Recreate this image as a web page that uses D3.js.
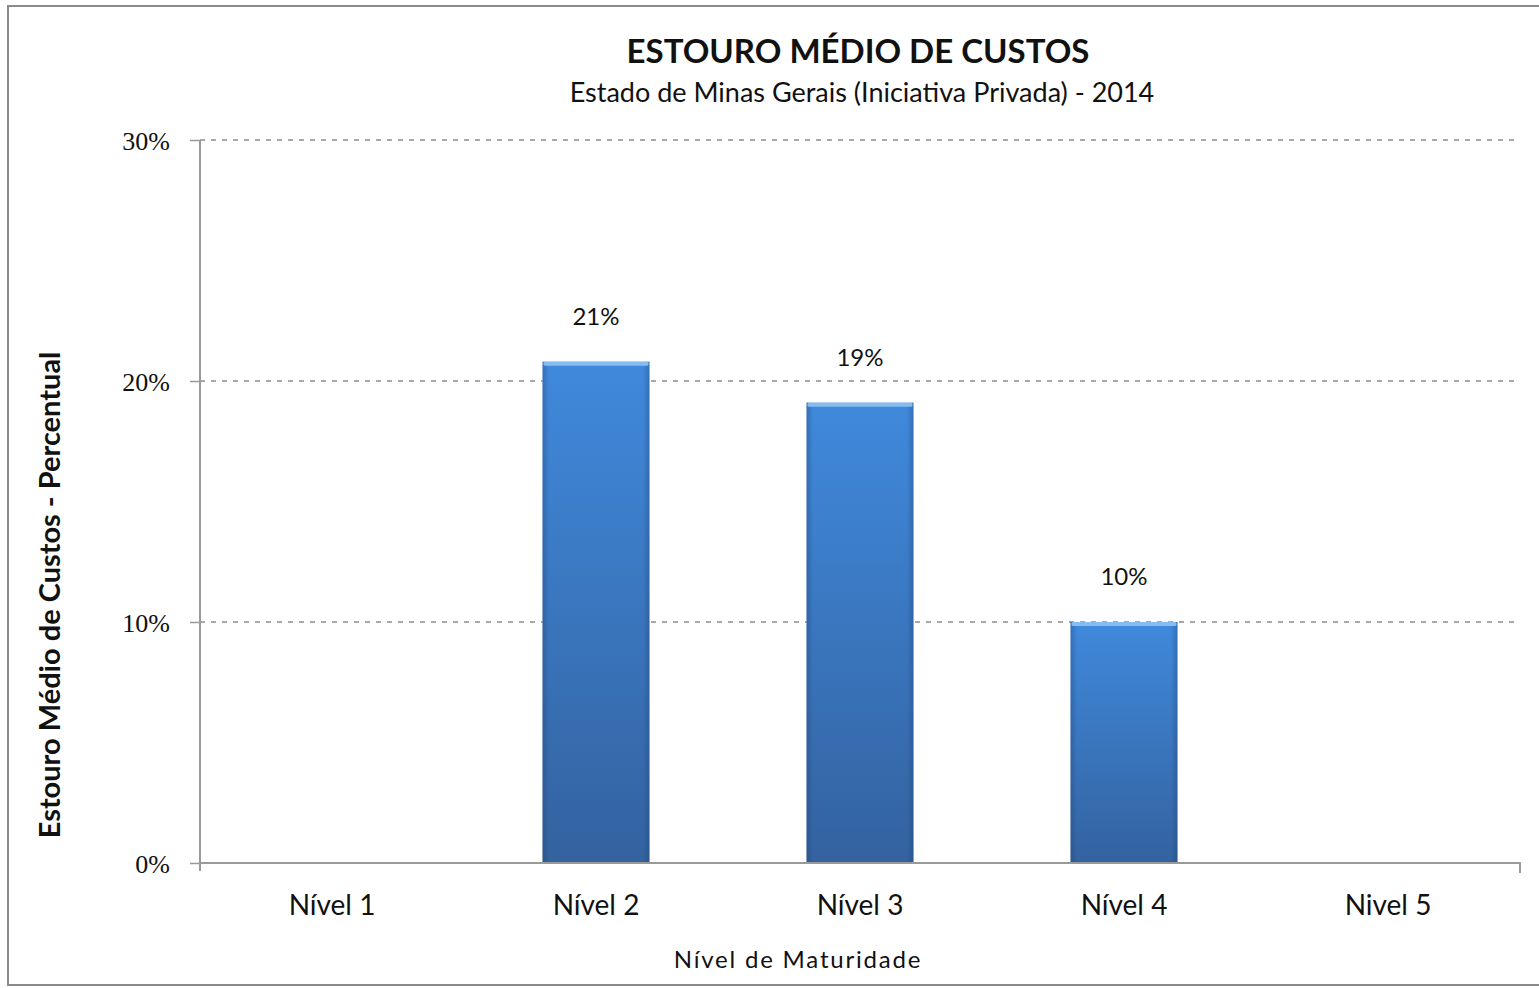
<!DOCTYPE html>
<html>
<head>
<meta charset="utf-8">
<script src="https://cdn.jsdelivr.net/npm/d3@7"></script>
<style>
  html, body { margin: 0; padding: 0; background: #fff; }
  svg { display: block; }
</style>
</head>
<body>
<svg id="chart" width="1539" height="988"></svg>
<script>
// Maturity levels and average cost overrun per level
const categories = ["Nível 1", "Nível 2", "Nível 3", "Nível 4", "Nivel 5"];
const values = [null, 0.208, 0.191, 0.100, null];
const yTicks = [0, 0.1, 0.2, 0.3];

const titleText = "ESTOURO MÉDIO DE CUSTOS";
const subtitleText = "Estado de Minas Gerais (Iniciativa Privada) - 2014";
const yTitleText = "Estouro Médio de Custos -  Percentual";
const xTitleText = "Nível de Maturidade";

const W = 1539, H = 988;
const margin = { left: 200, right: 19, top: 140, bottom: 125 };
const plotW = W - margin.left - margin.right;
const plotH = H - margin.top - margin.bottom;

const svg = d3.select("#chart");
const font = "Lato, 'Open Sans', sans-serif";

// Outer chart frame
svg.append("rect")
  .attr("x", 8).attr("y", 6)
  .attr("width", W).attr("height", 979)
  .attr("fill", "#fff")
  .attr("stroke", "#8a8a8a").attr("stroke-width", 2);

const defs = svg.append("defs");
const grad = defs.append("linearGradient").attr("id", "barGrad")
  .attr("x1", 0).attr("y1", 0).attr("x2", 0).attr("y2", 1);
grad.append("stop").attr("offset", "0%").attr("stop-color", "#4089dc");
grad.append("stop").attr("offset", "100%").attr("stop-color", "#33629f");

const side = defs.append("linearGradient").attr("id", "sideGrad")
  .attr("x1", 0).attr("y1", 0).attr("x2", 1).attr("y2", 0);
side.append("stop").attr("offset", "0%").attr("stop-color", "#1d3f70").attr("stop-opacity", 0.35);
side.append("stop").attr("offset", "6%").attr("stop-color", "#1d3f70").attr("stop-opacity", 0);
side.append("stop").attr("offset", "94%").attr("stop-color", "#1d3f70").attr("stop-opacity", 0);
side.append("stop").attr("offset", "100%").attr("stop-color", "#1d3f70").attr("stop-opacity", 0.35);

const x = d3.scaleBand().domain(categories).range([0, plotW]).paddingInner(0.595).paddingOuter(0.2975);
const y = d3.scaleLinear().domain([0, 0.3]).range([plotH, 0]);

const g = svg.append("g").attr("transform", `translate(${margin.left},${margin.top})`);

// Dashed horizontal gridlines
g.append("g").selectAll("line")
  .data(yTicks.filter(d => d > 0))
  .join("line")
  .attr("x1", 0).attr("x2", plotW)
  .attr("y1", d => y(d)).attr("y2", d => y(d))
  .attr("stroke", "#8c8c8c").attr("stroke-width", 1.6)
  .attr("stroke-dasharray", "5,6");

// Bars
const data = categories.map((c, i) => ({ c, v: values[i] })).filter(d => d.v != null);
const bars = g.append("g").selectAll("g").data(data).join("g");
bars.append("rect")
  .attr("x", d => x(d.c)).attr("width", x.bandwidth())
  .attr("y", d => y(d.v)).attr("height", d => plotH - y(d.v))
  .attr("fill", "url(#barGrad)");
bars.append("rect")
  .attr("x", d => x(d.c)).attr("width", x.bandwidth())
  .attr("y", d => y(d.v)).attr("height", d => plotH - y(d.v))
  .attr("fill", "url(#sideGrad)");
bars.append("rect")
  .attr("x", d => x(d.c) + 1).attr("width", x.bandwidth() - 2)
  .attr("y", d => y(d.v)).attr("height", 4)
  .attr("rx", 1.5)
  .attr("fill", "#86bcef");

// Value labels
const fmt = d3.format(".0%");
bars.append("text")
  .attr("x", d => x(d.c) + x.bandwidth() / 2)
  .attr("y", d => y(d.v) - 37)
  .attr("text-anchor", "middle")
  .attr("font-family", font).attr("font-size", 24)
  .attr("fill", "#111")
  .text(d => fmt(d.v));

// Y axis
const yAxis = g.append("g")
  .call(d3.axisLeft(y).tickValues(yTicks).tickFormat(d3.format(".0%")).tickSize(10).tickPadding(20));
yAxis.select(".domain").attr("stroke", "#9a9a9a").attr("stroke-width", 2)
  .attr("d", `M0,0V${plotH + 8}`);
yAxis.selectAll(".tick line").attr("stroke", "#9a9a9a").attr("stroke-width", 1.5);
yAxis.selectAll(".tick text")
  .attr("font-family", "'Liberation Serif', serif").attr("font-size", 26)
  .attr("fill", "#111").attr("dy", "0.35em");

// X axis
const xAxis = g.append("g").attr("transform", `translate(0,${plotH})`)
  .call(d3.axisBottom(x).tickSize(0).tickPadding(32));
xAxis.select(".domain").attr("stroke", "#9a9a9a").attr("stroke-width", 2)
  .attr("d", `M0,0H${plotW}V10`);
xAxis.selectAll(".tick text")
  .attr("font-family", font).attr("font-size", 28)
  .attr("fill", "#111");

// Titles
svg.append("text")
  .attr("x", 858).attr("y", 63)
  .attr("text-anchor", "middle")
  .attr("font-family", font).attr("font-weight", "bold").attr("font-size", 33)
  .attr("fill", "#111")
  .text(titleText);

svg.append("text")
  .attr("x", 862).attr("y", 102)
  .attr("text-anchor", "middle")
  .attr("font-family", font).attr("font-size", 27)
  .attr("fill", "#111")
  .text(subtitleText);

svg.append("text")
  .attr("transform", "translate(60,595) rotate(-90)")
  .attr("text-anchor", "middle")
  .attr("font-family", font).attr("font-weight", "bold").attr("font-size", 29)
  .attr("fill", "#111")
  .text(yTitleText);

svg.append("text")
  .attr("x", 798).attr("y", 968)
  .attr("text-anchor", "middle")
  .attr("font-family", font).attr("font-size", 24)
  .attr("letter-spacing", 1.8)
  .attr("fill", "#111")
  .text(xTitleText);
</script>
</body>
</html>
